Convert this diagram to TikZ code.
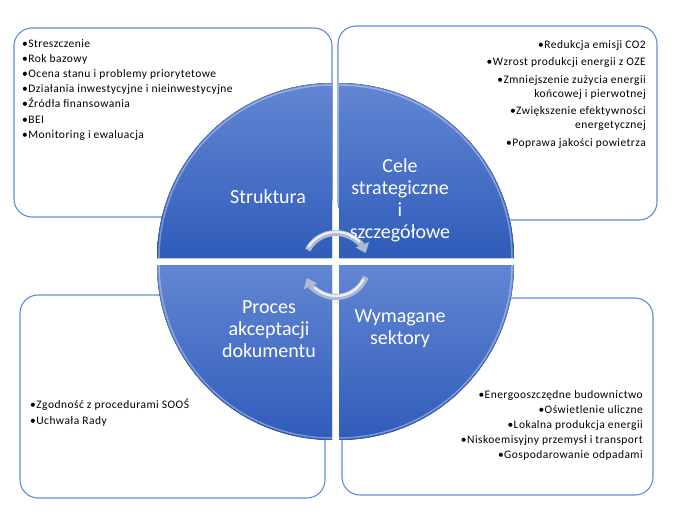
\documentclass[tikz,border=0pt]{standalone}
\usepackage{fontspec}
\setmainfont{Carlito}
\usetikzlibrary{arrows.meta}
\definecolor{quadtop}{HTML}{6386D3}
\definecolor{quadbot}{HTML}{2F5CBA}
\definecolor{boxline}{HTML}{5F8CDA}
\definecolor{cycline}{HTML}{AEB9D2}
\begin{document}
\begin{tikzpicture}[x=1pt, y=1pt,
  box/.style={draw=boxline, line width=1.1pt, rounded corners=18pt, fill=white},
  quad/.style={top color=quadtop, bottom color=quadbot, draw=none},
  rim/.style={white, opacity=0.35, line width=1.5pt},
  lbl/.style={text=white, align=center, inner sep=0pt, font=\fontsize{20}{22}\selectfont},
  list/.style={inner sep=0pt, font=\fontsize{11.5}{15.2}\selectfont\addfontfeatures{LetterSpace=4}},
  cyc/.style={line width=6pt, draw=cycline, -{Triangle[width=14pt,length=9pt]}},
  shine/.style={white, opacity=0.8, line width=2.2pt, line cap=round}
]
\useasboundingbox (0,0) rectangle (685,515);

% Boxes behind the circle
\draw[box] (14,298) rectangle (332,487);
\draw[box] (338,295) rectangle (657,489);
\draw[box] (20,17) rectangle (325,220);
\draw[box] (342,20) rectangle (653,217);
\fill (180,338) circle (0.8);

% Quarter circles
\fill[quad] (332,257) -- (157,257) arc[start angle=180, end angle=90, radius=175] -- cycle;
\fill[quad] (339,257) -- (339,432) arc[start angle=90, end angle=0, radius=175] -- cycle;
\fill[quad] (332,250) -- (157,250) arc[start angle=180, end angle=270, radius=175] -- cycle;
\fill[quad] (339,250) -- (514,250) arc[start angle=0, end angle=-90, radius=175] -- cycle;
\draw[rim] (159,257) arc[start angle=180, end angle=90, radius=173];
\draw[rim] (339,430) arc[start angle=90, end angle=0, radius=173];
\draw[rim] (159,250) arc[start angle=180, end angle=270, radius=173];
\draw[rim] (512,250) arc[start angle=0, end angle=-90, radius=173];

% Cycle arrows
\draw[cyc] (336,250) ++(152:32) arc[start angle=152, end angle=22, radius=32];
\draw[cyc] (336,250) ++(-22:32) arc[start angle=-22, end angle=-156, radius=32];
\draw[shine] (336,250) ++(146:33) arc[start angle=146, end angle=45, radius=33];
\draw[shine] (336,250) ++(-28:31) arc[start angle=-28, end angle=-133, radius=31];

% Labels in the quarters
\node[lbl] (struktura) at (268,318) {Struktura};
\node[lbl] (cele) at (400,315) {Cele\\strategiczne\\i\\szczegółowe};
\node[lbl] (proces) at (269,186) {Proces\\akceptacji\\dokumentu};
\node[lbl] (sektory) at (400,186) {Wymagane\\sektory};

% Lists in the boxes
\node[list, anchor=north west, align=left] (strukturaList) at (22,476)
  {•Streszczenie\\•Rok bazowy\\•Ocena stanu i problemy priorytetowe\\
   •Działania inwestycyjne i nieinwestycyjne\\•Źródła finansowania\\•BEI\\
   •Monitoring i ewaluacja};
\node[list, anchor=north east, align=right, font=\fontsize{11.5}{14}\selectfont\addfontfeatures{LetterSpace=4}] (celeList) at (646,475)
  {•Redukcja emisji CO2\\[3.5pt]•Wzrost produkcji energii z OZE\\[3.5pt]
   •Zmniejszenie zużycia energii\\końcowej i pierwotnej\\[3.5pt]
   •Zwiększenie efektywności\\energetycznej\\[3.5pt]•Poprawa jakości powietrza};
\node[list, anchor=north west, align=left] (procesList) at (30,116)
  {•Zgodność z procedurami SOOŚ\\•Uchwała Rady};
\node[list, anchor=north east, align=right] (sektoryList) at (643,125)
  {•Energooszczędne budownictwo\\•Oświetlenie uliczne\\•Lokalna produkcja energii\\
   •Niskoemisyjny przemysł i transport\\•Gospodarowanie odpadami};
\end{tikzpicture}
\end{document}
